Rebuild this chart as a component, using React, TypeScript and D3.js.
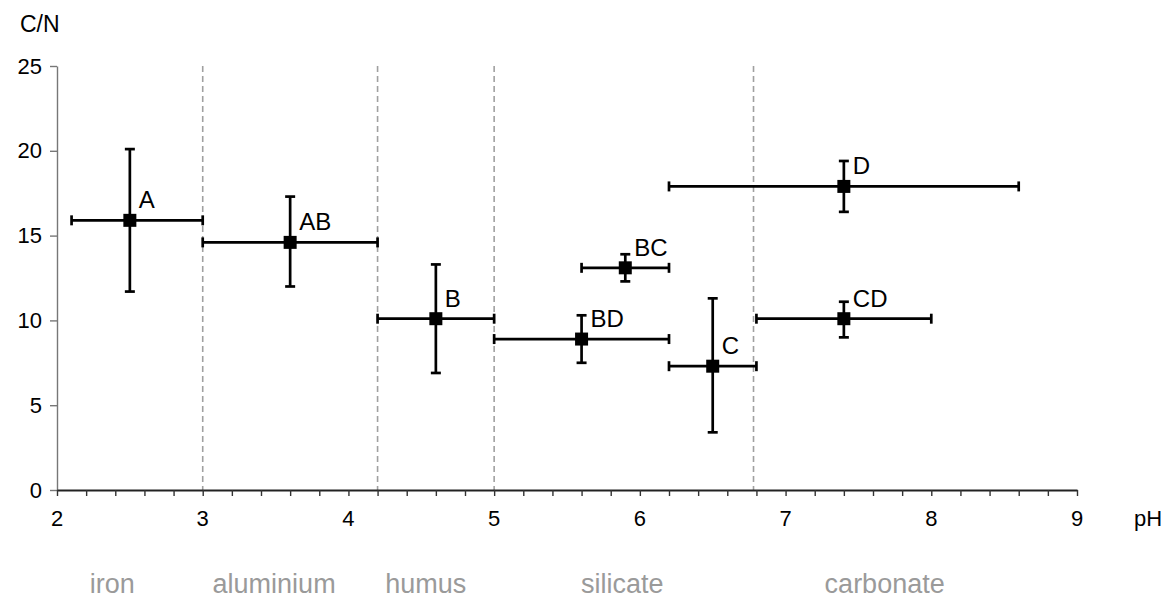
import React, { useEffect, useRef } from "react";
import * as d3 from "d3";

// Chart data: soil buffer groups, pH and C/N means with their ranges
const groups = ["A", "AB", "B", "BD", "BC", "C", "D", "CD"];
const phMean = [2.5, 3.6, 4.6, 5.6, 5.9, 6.5, 7.4, 7.4];
const phLow = [2.1, 3.0, 4.2, 5.0, 5.6, 6.2, 6.2, 6.8];
const phHigh = [3.0, 4.2, 5.0, 6.2, 6.2, 6.8, 8.6, 8.0];
const cnMean = [15.9, 14.6, 10.1, 8.9, 13.1, 7.3, 17.9, 10.1];
const cnLow = [11.7, 12.0, 6.9, 7.5, 12.3, 3.4, 16.4, 9.0];
const cnHigh = [20.1, 17.3, 13.3, 10.3, 13.9, 11.3, 19.4, 11.1];

// Buffer range boundaries and names
const boundaries = [3.0, 4.2, 5.0, 6.78];
const zoneNames = ["iron", "aluminium", "humus", "silicate", "carbonate"];
const zoneCenters = [2.38, 3.49, 4.53, 5.88, 7.68];

const xTicks = [2, 3, 4, 5, 6, 7, 8, 9];
const yTicks = [0, 5, 10, 15, 20, 25];

const W = 1173;
const H = 600;
const font = "Liberation Sans, Arial, sans-serif";

function App() {
  const ref = useRef<SVGSVGElement>(null);

  useEffect(() => {
    const x = d3.scaleLinear().domain([2, 9]).range([57, 1077]);
    const y = d3.scaleLinear().domain([0, 25]).range([490, 66]);

    const svg = d3.select(ref.current).html("");

    // dashed boundaries between buffer ranges
    svg.append("g")
      .selectAll("line")
      .data(boundaries)
      .join("line")
      .attr("x1", (d) => x(d))
      .attr("x2", (d) => x(d))
      .attr("y1", y(25))
      .attr("y2", y(0))
      .attr("stroke", "#a0a0a0")
      .attr("stroke-width", 1.6)
      .attr("stroke-dasharray", "6,4");

    // y axis
    const yAxis = svg.append("g")
      .attr("transform", `translate(${x(2)},0)`)
      .call(d3.axisLeft(y).tickValues(yTicks).tickSize(7).tickSizeOuter(0).tickPadding(8));
    yAxis.select(".domain").attr("stroke", "#777").attr("stroke-width", 1.4);
    yAxis.selectAll(".tick line").attr("stroke", "#777").attr("stroke-width", 1.4);
    yAxis.selectAll("text")
      .attr("font-family", font)
      .attr("font-size", 22)
      .attr("fill", "#000");

    // x axis: minor ticks every 0.2
    const xAxis = svg.append("g")
      .attr("transform", `translate(0,${y(0)})`)
      .call(d3.axisBottom(x).ticks(35).tickFormat(() => "").tickSize(6).tickSizeOuter(0));
    xAxis.select(".domain").attr("stroke", "#222").attr("stroke-width", 2);
    xAxis.selectAll(".tick line").attr("stroke", "#333").attr("stroke-width", 1.4);

    svg.append("g")
      .selectAll("text")
      .data(xTicks)
      .join("text")
      .attr("x", (d) => x(d))
      .attr("y", 526)
      .attr("text-anchor", "middle")
      .attr("font-family", font)
      .attr("font-size", 22)
      .text((d) => d);

    // axis titles
    svg.append("text")
      .attr("x", 20)
      .attr("y", 32)
      .attr("font-family", font)
      .attr("font-size", 23)
      .text("C/N");
    svg.append("text")
      .attr("x", 1134)
      .attr("y", 526)
      .attr("font-family", font)
      .attr("font-size", 22)
      .text("pH");

    // buffer range names
    svg.append("g")
      .selectAll("text")
      .data(zoneNames)
      .join("text")
      .attr("x", (d, i) => x(zoneCenters[i]))
      .attr("y", 593)
      .attr("text-anchor", "middle")
      .attr("font-family", font)
      .attr("font-size", 27)
      .attr("fill", "#9a9a9a")
      .text((d) => d);

    const pts = groups.map((g, i) => ({
      g,
      px: phMean[i], pl: phLow[i], ph: phHigh[i],
      cy: cnMean[i], cl: cnLow[i], ch: cnHigh[i],
    }));

    const cap = 5;
    const bars = svg.append("g")
      .attr("stroke", "#000")
      .attr("stroke-width", 2.7)
      .attr("fill", "none");

    pts.forEach((d) => {
      // horizontal bar
      bars.append("line")
        .attr("x1", x(d.pl)).attr("x2", x(d.ph))
        .attr("y1", y(d.cy)).attr("y2", y(d.cy));
      bars.append("line")
        .attr("x1", x(d.pl)).attr("x2", x(d.pl))
        .attr("y1", y(d.cy) - cap).attr("y2", y(d.cy) + cap);
      bars.append("line")
        .attr("x1", x(d.ph)).attr("x2", x(d.ph))
        .attr("y1", y(d.cy) - cap).attr("y2", y(d.cy) + cap);
      // vertical bar
      bars.append("line")
        .attr("x1", x(d.px)).attr("x2", x(d.px))
        .attr("y1", y(d.cl)).attr("y2", y(d.ch));
      bars.append("line")
        .attr("x1", x(d.px) - cap).attr("x2", x(d.px) + cap)
        .attr("y1", y(d.cl)).attr("y2", y(d.cl));
      bars.append("line")
        .attr("x1", x(d.px) - cap).attr("x2", x(d.px) + cap)
        .attr("y1", y(d.ch)).attr("y2", y(d.ch));
    });

    // square markers
    const s = 13;
    svg.append("g")
      .selectAll("rect")
      .data(pts)
      .join("rect")
      .attr("x", (d) => x(d.px) - s / 2)
      .attr("y", (d) => y(d.cy) - s / 2)
      .attr("width", s)
      .attr("height", s)
      .attr("fill", "#000");

    // group letters
    svg.append("g")
      .selectAll("text")
      .data(pts)
      .join("text")
      .attr("x", (d) => x(d.px) + 9)
      .attr("y", (d) => y(d.cy) - 12)
      .attr("font-family", font)
      .attr("font-size", 24)
      .text((d) => d.g);
  }, []);

  return (
    <svg
      ref={ref}
      width={W}
      height={H}
      style={{ position: "absolute", left: 0, top: 0, background: "#fff" }}
    />
  );
}

export default App;
